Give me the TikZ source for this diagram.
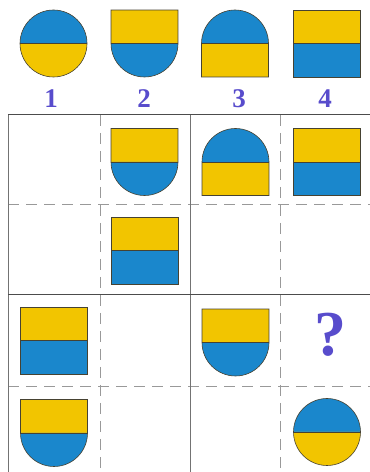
\documentclass[tikz,border=0pt]{standalone}
\usepackage{fontspec}
\setmainfont{Liberation Serif}
\usetikzlibrary{positioning}
\definecolor{flagblue}{RGB}{26, 135, 204}
\definecolor{flagyellow}{RGB}{242, 197, 0}
\definecolor{numviolet}{RGB}{88, 76, 204}
\definecolor{rimgray}{RGB}{70, 66, 50}

\tikzset{
  rim/.style={draw=rimgray, line width=0.6pt},
  gridsolid/.style={draw=black!55, line width=1pt},
  griddash/.style={draw=black!40, line width=1pt, dash pattern=on 11pt off 7pt},
  numlabel/.style={text=numviolet, font=\fontsize{27}{27}\selectfont\bfseries},
  pics/circ/.style={code={
      \fill[flagblue] (-33.5,0) arc (180:0:33.5) -- cycle;
      \fill[flagyellow] (-33.5,0) arc (180:360:33.5) -- cycle;
      \draw[rim] (0,0) circle (33.5);
      \draw[rim] (-33.5,0) -- (33.5,0);
  }},
  pics/shield/.style={code={
      \fill[flagyellow] (-33.5,0) rectangle (33.5,33.5);
      \fill[flagblue] (-33.5,0) arc (180:360:33.5) -- cycle;
      \draw[rim] (-33.5,0) -- (-33.5,33.5) -- (33.5,33.5) -- (33.5,0)
                 arc (0:-180:33.5) -- cycle;
      \draw[rim] (-33.5,0) -- (33.5,0);
  }},
  pics/arch/.style={code={
      \fill[flagblue] (-33.5,0) arc (180:0:33.5) -- cycle;
      \fill[flagyellow] (-33.5,-33.5) rectangle (33.5,0);
      \draw[rim] (-33.5,0) arc (180:0:33.5) -- (33.5,-33.5)
                 -- (-33.5,-33.5) -- cycle;
      \draw[rim] (-33.5,0) -- (33.5,0);
  }},
  pics/sq/.style={code={
      \fill[flagyellow] (-33.5,0) rectangle (33.5,33.5);
      \fill[flagblue] (-33.5,-33.5) rectangle (33.5,0);
      \draw[rim] (-33.5,-33.5) rectangle (33.5,33.5);
      \draw[rim] (-33.5,0) -- (33.5,0);
  }}
}

\begin{document}
\begin{tikzpicture}[x=1pt, y=1pt]
  \useasboundingbox (0,0) rectangle (370,472);

  % answer choices
  \pic at (53.5,428.5) {circ};
  \pic at (144.5,428.5) {shield};
  \pic at (235,428.5) {arch};
  \pic at (326.5,428.5) {sq};
  \node[numlabel] (lab1) at (51,373) {1};
  \node[numlabel] (lab2) at (144,373) {2};
  \node[numlabel] (lab3) at (239,373) {3};
  \node[numlabel] (lab4) at (325,373) {4};

  % grid
  \draw[griddash] (8,267) -- (370,267);
  \draw[griddash] (8,85) -- (370,85);
  \draw[griddash] (100,357) -- (100,0);
  \draw[griddash] (280,357) -- (280,0);
  \draw[gridsolid] (8,357) -- (8,0);
  \draw[gridsolid] (190,357) -- (190,0);
  \draw[gridsolid, draw=black!70] (8,357) -- (370,357);
  \draw[gridsolid, draw=black!70] (8,177) -- (370,177);

  % row 1
  \pic at (144.5,310) {shield};
  \pic at (235.5,310) {arch};
  \pic at (326.5,310) {sq};
  % row 2
  \pic at (144.5,221.5) {sq};
  % row 3
  \pic at (54,131.5) {sq};
  \pic at (235.5,129.5) {shield};
  \node[text=numviolet, font=\fontsize{64}{64}\selectfont\bfseries] (qmark) at (330.5,137.5) {?};
  % row 4
  \pic at (54,39) {shield};
  \pic at (327,40) {circ};
\end{tikzpicture}
\end{document}
